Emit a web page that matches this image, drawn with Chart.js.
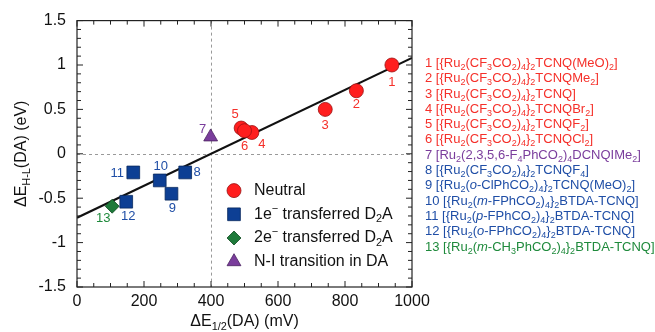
<!DOCTYPE html>
<html>
<head>
<meta charset="utf-8">
<script src="https://cdn.jsdelivr.net/npm/chart.js@4"></script>
<style>
  body { margin: 0; background: #fff; }
  #wrap { position: relative; width: 655px; height: 332px; }
  #list { position: absolute; left: 425px; top: 55px; font: 13px "Liberation Sans", Arial, sans-serif; line-height: 15.3px; white-space: nowrap; }
  #list sub { font-size: 9px; vertical-align: -3px; line-height: 0; }
</style>
</head>
<body>
<div id="wrap">
  <canvas id="myChart" width="655" height="332"></canvas>
  <div id="list"></div>
</div>
<script>
const FONT = '"Liberation Sans", Arial, sans-serif';

// data
const neutralIds = ['1', '2', '3', '4', '5', '6'];
const neutralX = [940, 834, 741, 522, 490, 500];
const neutralY = [1.0, 0.71, 0.50, 0.24, 0.29, 0.26];

const oneEIds = ['8', '9', '10', '11', '12'];
const oneEX = [323, 282, 247, 168, 147];
const oneEY = [-0.21, -0.45, -0.30, -0.21, -0.54];

const twoEIds = ['13'];
const twoEX = [105];
const twoEY = [-0.59];

const niIds = ['7'];
const niX = [399];
const niY = [0.19];

const fitX = [0, 1000];
const fitY = [-0.72, 1.08];

const xTicks = [0, 200, 400, 600, 800, 1000];
const xTickLabels = ['0', '200', '400', '600', '800', '1000'];
const yTicks = [-1.5, -1, -0.5, 0, 0.5, 1, 1.5];
const yTickLabels = ['-1.5', '-1', '-0.5', '0', '0.5', '1', '1.5'];

const legendNames = [
  [['Neutral', '']],
  [['1e', ''], ['\u2212', 'sup'], [' transferred D', ''], ['2', 'sub'], ['A', '']],
  [['2e', ''], ['\u2212', 'sup'], [' transferred D', ''], ['2', 'sub'], ['A', '']],
  [['N-I transition in DA', '']]
];

const compounds = [
  '1 [{Ru<sub>2</sub>(CF<sub>3</sub>CO<sub>2</sub>)<sub>4</sub>}<sub>2</sub>TCNQ(MeO)<sub>2</sub>]',
  '2 [{Ru<sub>2</sub>(CF<sub>3</sub>CO<sub>2</sub>)<sub>4</sub>}<sub>2</sub>TCNQMe<sub>2</sub>]',
  '3 [{Ru<sub>2</sub>(CF<sub>3</sub>CO<sub>2</sub>)<sub>4</sub>}<sub>2</sub>TCNQ]',
  '4 [{Ru<sub>2</sub>(CF<sub>3</sub>CO<sub>2</sub>)<sub>4</sub>}<sub>2</sub>TCNQBr<sub>2</sub>]',
  '5 [{Ru<sub>2</sub>(CF<sub>3</sub>CO<sub>2</sub>)<sub>4</sub>}<sub>2</sub>TCNQF<sub>2</sub>]',
  '6 [{Ru<sub>2</sub>(CF<sub>3</sub>CO<sub>2</sub>)<sub>4</sub>}<sub>2</sub>TCNQCl<sub>2</sub>]',
  '7 [Ru<sub>2</sub>(2,3,5,6-F<sub>4</sub>PhCO<sub>2</sub>)<sub>4</sub>DCNQIMe<sub>2</sub>]',
  '8 [{Ru<sub>2</sub>(CF<sub>3</sub>CO<sub>2</sub>)<sub>4</sub>}<sub>2</sub>TCNQF<sub>4</sub>]',
  '9 [{Ru<sub>2</sub>(<i>o</i>-ClPhCO<sub>2</sub>)<sub>4</sub>}<sub>2</sub>TCNQ(MeO)<sub>2</sub>]',
  '10 [{Ru<sub>2</sub>(<i>m</i>-FPhCO<sub>2</sub>)<sub>4</sub>}<sub>2</sub>BTDA-TCNQ]',
  '11 [{Ru<sub>2</sub>(<i>p</i>-FPhCO<sub>2</sub>)<sub>4</sub>}<sub>2</sub>BTDA-TCNQ]',
  '12 [{Ru<sub>2</sub>(<i>o</i>-FPhCO<sub>2</sub>)<sub>4</sub>}<sub>2</sub>BTDA-TCNQ]',
  '13 [{Ru<sub>2</sub>(<i>m</i>-CH<sub>3</sub>PhCO<sub>2</sub>)<sub>4</sub>}<sub>2</sub>BTDA-TCNQ]'
];

const RED = '#f5302a', BLUE = '#1f4ea6', GREEN = '#1f8a3c', PURPLE = '#7a3d9c';
const compoundColors = [RED, RED, RED, RED, RED, RED, PURPLE, BLUE, BLUE, BLUE, BLUE, BLUE, GREEN];

// where the number label sits relative to its marker (px)
const labelOffsets = {
  '1': [0, 17], '2': [0, 14], '3': [0, 16], '4': [10, 12], '5': [-6, -14], '6': [0, 16],
  '7': [-8, -8], '8': [12, 0], '9': [1, 15], '10': [1, -14], '11': [-16, 1], '12': [2, 15], '13': [-9, 12]
};

document.getElementById('list').innerHTML = compounds
  .map((c, i) => '<div style="color:' + compoundColors[i] + '">' + c + '</div>').join('');

function pts(xs, ys) {
  return xs.map((x, i) => ({ x: x, y: ys[i] }));
}

function drawRich(ctx, parts, x, y, size, align) {
  const fontFor = m => ((m === 'sub' || m === 'sup') ? size * 0.68 : size) + 'px ' + FONT;
  let w = 0;
  parts.forEach(p => { ctx.font = fontFor(p[1]); w += ctx.measureText(p[0]).width; });
  let cx = align === 'center' ? x - w / 2 : x;
  ctx.textAlign = 'left';
  ctx.textBaseline = 'middle';
  parts.forEach(p => {
    ctx.font = fontFor(p[1]);
    const dy = p[1] === 'sub' ? size * 0.3 : p[1] === 'sup' ? -size * 0.35 : 0;
    ctx.fillText(p[0], cx, y + dy);
    cx += ctx.measureText(p[0]).width;
  });
}

const groups = [
  { ids: neutralIds, color: RED },
  { ids: oneEIds, color: BLUE },
  { ids: twoEIds, color: GREEN },
  { ids: niIds, color: PURPLE }
];

const extras = {
  id: 'extras',
  beforeDatasetsDraw(chart) {
    const { ctx, chartArea: a, scales: { x, y } } = chart;
    ctx.save();
    ctx.strokeStyle = '#999';
    ctx.lineWidth = 1;
    ctx.setLineDash([3, 3]);
    ctx.beginPath();
    const px = Math.round(x.getPixelForValue(400)) + 0.5;
    const py = Math.round(y.getPixelForValue(0)) + 0.5;
    ctx.moveTo(px, a.top); ctx.lineTo(px, a.bottom);
    ctx.moveTo(a.left, py); ctx.lineTo(a.right, py);
    ctx.stroke();
    ctx.restore();
  },
  afterDatasetsDraw(chart) {
    const { ctx, chartArea: a, scales: { x, y } } = chart;
    ctx.save();
    // frame and inward ticks
    ctx.strokeStyle = '#222';
    ctx.lineWidth = 1.2;
    ctx.setLineDash([]);
    ctx.strokeRect(a.left, a.top, a.right - a.left, a.bottom - a.top);
    ctx.lineWidth = 1;
    ctx.beginPath();
    for (let v = 0; v <= 1000; v += 50) {
      const p = x.getPixelForValue(v);
      const len = v % 200 === 0 ? 6 : 4;
      ctx.moveTo(p, a.bottom); ctx.lineTo(p, a.bottom - len);
      ctx.moveTo(p, a.top); ctx.lineTo(p, a.top + len);
    }
    for (let i = -15; i <= 15; i++) {
      const p = y.getPixelForValue(i / 10);
      const len = i % 5 === 0 ? 6 : 4;
      ctx.moveTo(a.left, p); ctx.lineTo(a.left + len, p);
      ctx.moveTo(a.right, p); ctx.lineTo(a.right - len, p);
    }
    ctx.stroke();

    // number labels next to markers
    ctx.font = '13px ' + FONT;
    ctx.textAlign = 'center';
    ctx.textBaseline = 'middle';
    chart.data.datasets.forEach((ds, di) => {
      if (!ds.ids) return;
      const meta = chart.getDatasetMeta(di);
      ctx.fillStyle = ds.labelColor;
      ds.ids.forEach((id, i) => {
        const el = meta.data[i];
        const o = labelOffsets[id];
        ctx.fillText(id, el.x + o[0], el.y + o[1]);
      });
    });

    // legend inside the plot
    const lx = a.left + 157, ly0 = a.top + 170, step = 23.7;
    chart.data.datasets.forEach((ds, di) => {
      if (!ds.ids) return;
      const yy = ly0 + di * step;
      ctx.fillStyle = ds.backgroundColor;
      ctx.strokeStyle = ds.borderColor;
      ctx.lineWidth = ds.borderWidth;
      Chart.helpers.drawPoint(ctx, { pointStyle: ds.pointStyle, radius: ds.pointRadius, rotation: 0, borderWidth: ds.borderWidth }, lx, yy);
      ctx.fillStyle = '#111';
      drawRich(ctx, legendNames[di], lx + 20, yy, 16, 'left');
    });

    // axis titles
    ctx.fillStyle = '#111';
    drawRich(ctx, [['\u0394E', ''], ['1/2', 'sub'], ['(DA) (mV)', '']], (a.left + a.right) / 2, 322, 16, 'center');
    ctx.translate(22, (a.top + a.bottom) / 2);
    ctx.rotate(-Math.PI / 2);
    drawRich(ctx, [['\u0394E', ''], ['H-L', 'sub'], ['(DA) (eV)', '']], 0, 0, 16, 'center');
    ctx.restore();
  }
};

const config = {
  type: 'scatter',
  data: {
    datasets: [
      {
        label: 'Neutral', ids: neutralIds, labelColor: RED,
        data: pts(neutralX, neutralY),
        pointStyle: 'circle', pointRadius: 7, backgroundColor: '#ff1e1e', borderColor: '#9a1212', borderWidth: 0.8
      },
      {
        label: '1e- transferred D2A', ids: oneEIds, labelColor: BLUE,
        data: pts(oneEX, oneEY),
        pointStyle: 'rect', pointRadius: 9, backgroundColor: '#0d3f94', borderColor: '#08285e', borderWidth: 0.8
      },
      {
        label: '2e- transferred D2A', ids: twoEIds, labelColor: GREEN,
        data: pts(twoEX, twoEY),
        pointStyle: 'rectRot', pointRadius: 7, backgroundColor: '#1e7a3a', borderColor: '#0f4a20', borderWidth: 0.8
      },
      {
        label: 'N-I transition in DA', ids: niIds, labelColor: PURPLE,
        data: pts(niX, niY),
        pointStyle: 'triangle', pointRadius: 8, backgroundColor: '#7a3d9c', borderColor: '#4a2260', borderWidth: 0.8
      },
      {
        label: 'fit',
        data: pts(fitX, fitY),
        showLine: true, pointRadius: 0, borderColor: '#111', borderWidth: 2.2
      }
    ]
  },
  options: {
    responsive: false,
    animation: false,
    layout: { padding: { left: 0, top: 17, right: 243, bottom: 0 } },
    plugins: { legend: { display: false }, tooltip: { enabled: false } },
    scales: {
      x: {
        type: 'linear', min: 0, max: 1000,
        afterBuildTicks: s => { s.ticks = xTicks.map(v => ({ value: v })); },
        afterFit: s => { s.height = 45; },
        ticks: { padding: 5, color: '#111', font: { size: 16, family: FONT }, callback: (v, i) => xTickLabels[i] },
        grid: { display: false, drawTicks: false },
        border: { display: false }
      },
      y: {
        type: 'linear', min: -1.5, max: 1.5,
        afterBuildTicks: s => { s.ticks = yTicks.map(v => ({ value: v })); },
        afterFit: s => { s.width = 77; },
        ticks: { padding: 11, color: '#111', font: { size: 16, family: FONT }, callback: (v, i) => yTickLabels[i] },
        grid: { display: false, drawTicks: false },
        border: { display: false }
      }
    }
  },
  plugins: [extras]
};

var ctx = document.getElementById('myChart').getContext('2d');
var myChart = new Chart(ctx, config);
</script>
</body>
</html>
